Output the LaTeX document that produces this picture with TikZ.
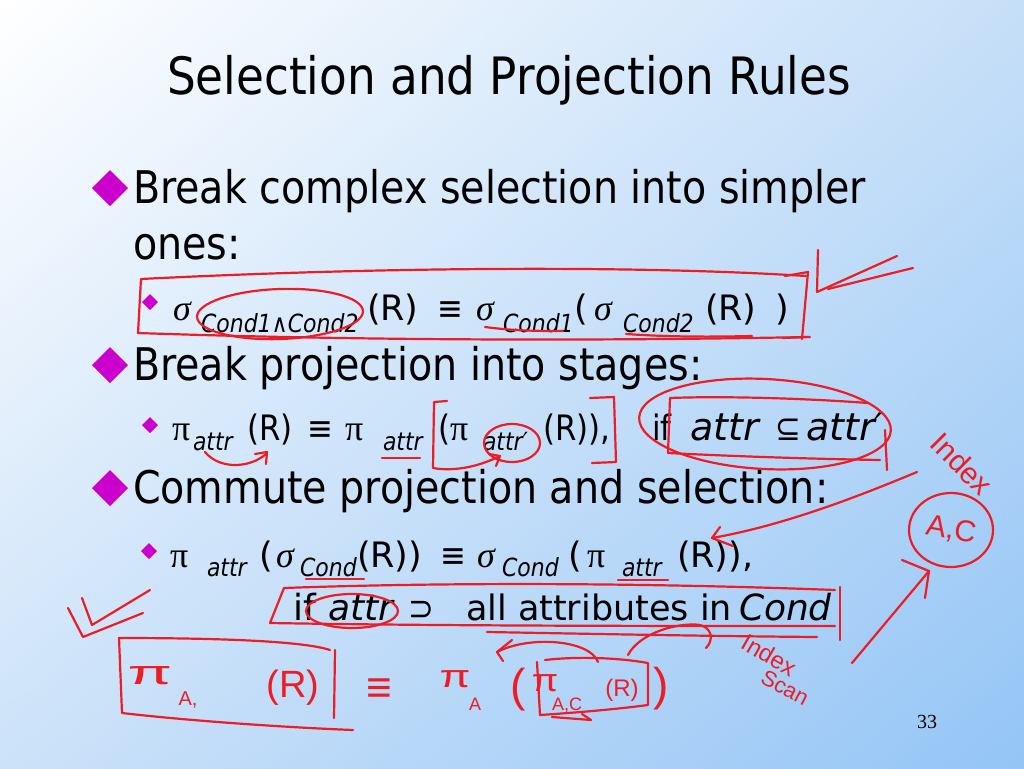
\documentclass[tikz,border=0pt]{standalone}
\usepackage{fontspec}
\setmainfont{DejaVu Sans}[FakeStretch=0.88]
\newfontfamily\widef{DejaVu Sans}
\newfontfamily\serf{Liberation Serif}
\newfontfamily\hwf{Liberation Sans}
\usetikzlibrary{arrows.meta,shadings}
\definecolor{bgTR}{HTML}{C6DFF8}
\definecolor{bgBL}{HTML}{CCE2F9}
\definecolor{bgBR}{HTML}{94C5F6}
\definecolor{ink}{HTML}{EE1C24}
\definecolor{bul}{HTML}{CC00CC}
\newcommand\myT{\fontsize{51.5}{60}\selectfont}
\newcommand\myB{\fontsize{45}{53}\selectfont}
\newcommand\myS{\fontsize{35}{42}\selectfont}
\newcommand\myW{\fontsize{35}{42}\selectfont\widef}
\newcommand\myWL{\fontsize{36}{42}\selectfont\widef}
\newcommand\myWB{\fontsize{38}{42}\selectfont\widef\itshape}
\newcommand\myU{\fontsize{25}{30}\selectfont\itshape}
\newcommand\mySig{\fontsize{36}{42}\selectfont\serf\itshape}
\newcommand\myPi{\fontsize{36}{42}\selectfont\serf}
\begin{document}
\begin{tikzpicture}[x=1pt,y=-1pt,
  t/.style={inner sep=0pt, outer sep=0pt, anchor=base west},
  hw/.style={inner sep=0pt, outer sep=0pt, anchor=center, text=ink},
  ann/.style={draw=ink, line width=2.2pt, line cap=round, line join=round},
  bigdia/.style={fill=bul},
  smalldia/.style={fill=bul}]
\useasboundingbox (0,0) rectangle (1024,768);
\shade[upper left=white, upper right=bgTR, lower left=bgBL, lower right=bgBR] (0,0) rectangle (1024,768);

% title
\node[t, font=\myT] (title) at (167,94) {Selection and Projection Rules};

% level-1 bullets
\fill[bigdia] (110,170) -- (128,188) -- (110,206) -- (92,188) -- cycle;
\fill[bigdia] (110,347) -- (128,365) -- (110,383) -- (92,365) -- cycle;
\fill[bigdia] (110,470) -- (128,488) -- (110,506) -- (92,488) -- cycle;
\node[t, font=\myB] (b1) at (133,203) {Break complex selection into simpler};
\node[t, font=\myB] (b1b) at (133,259) {ones:};
\node[t, font=\myB] (b2) at (133,380) {Break projection into stages:};
\node[t, font=\myB] (b3) at (133,503) {Commute projection and selection:};

% level-2 bullets
\fill[smalldia] (150,294) -- (158,302) -- (150,310) -- (142,302) -- cycle;
\fill[smalldia] (150,417) -- (158,425) -- (150,433) -- (142,425) -- cycle;
\fill[smalldia] (149,543) -- (157,551) -- (149,559) -- (141,551) -- cycle;

% sub 1
\node[t, font=\mySig] (s1a) at (173,320) {σ};
\node[t, font=\myU] (s1b) at (201,332) {Cond1∧Cond2};
\node[t, font=\myW] (s1c) at (367,320) {(R)};
\node[t, font=\myS] (s1d) at (437,320) {≡};
\node[t, font=\mySig] (s1e) at (476,320) {σ};
\node[t, font=\myU] (s1f) at (503,332) {Cond1};
\node[t, font=\myW] (s1g) at (574,320) {(};
\node[t, font=\mySig] (s1h) at (594,320) {σ};
\node[t, font=\myU] (s1i) at (623,332) {Cond2};
\node[t, font=\myW] (s1j) at (705,320) {(R)};
\node[t, font=\myW] (s1k) at (775,320) {)};

% sub 2
\node[t, font=\myPi] (s2a) at (172,440) {π};
\node[t, font=\myU] (s2b) at (193,450) {attr};
\node[t, font=\myS] (s2c) at (247,440) {(R)};
\node[t, font=\myS] (s2d) at (307,440) {≡};
\node[t, font=\myPi] (s2e) at (345,440) {π};
\node[t, font=\myU] (s2f) at (383,450) {attr};
\node[t, font=\myS] (s2g) at (438,440) {(};
\node[t, font=\myPi] (s2h) at (450,440) {π};
\node[t, font=\myU] (s2i) at (483,450) {attr′};
\node[t, font=\myS] (s2j) at (543,440) {(R)),};
\node[t, font=\myS] (s2k) at (652,440) {if};
\node[t, font=\myWB] (s2l) at (690,440) {attr};
\node[t, font=\myS] (s2m) at (775,440) {⊆};
\node[t, font=\myWB] (s2n) at (806,440) {attr′};

% sub 3
\node[t, font=\myPi] (s3a) at (170,567) {π};
\node[t, font=\myU] (s3b) at (207,576) {attr};
\node[t, font=\myW] (s3c) at (259,567) {(};
\node[t, font=\mySig] (s3d) at (276,567) {σ};
\node[t, font=\myU] (s3e) at (300,576) {Cond};
\node[t, font=\myW] (s3f) at (357,567) {(R))};
\node[t, font=\myS] (s3g) at (440,567) {≡};
\node[t, font=\mySig] (s3h) at (477,567) {σ};
\node[t, font=\myU] (s3i) at (502,576) {Cond};
\node[t, font=\myW] (s3j) at (568,567) {(};
\node[t, font=\myPi] (s3k) at (587,567) {π};
\node[t, font=\myU] (s3l) at (622,576) {attr};
\node[t, font=\myW] (s3m) at (677,567) {(R)),};
\node[t, font=\myWL] (s3n) at (293,620) {if};
\node[t, font=\myWL\itshape] (s3o) at (328,620) {attr};
\node[t, font=\myS] (s3p) at (408,620) {⊃};
\node[t, font=\myW] (s3q) at (466,620) {all attributes in};
\node[t, font=\myWL\itshape] (s3r) at (739,620) {Cond};

% page number
\node[t, font=\serf\fontsize{20}{24}\selectfont] (pg) at (917,728) {33};

% ---- red annotations ----
% box around sub 1
\draw[ann] (806,276) .. controls (650,266) and (400,266) .. (141,279) -- (138,333) .. controls (400,342) and (650,340) .. (810,337);
\draw[ann] (785,276) -- (808,272) -- (802,339);
\draw[ann] (783,338) -- (806,337);
\draw[ann, rotate around={2:(280,314)}] (280,314) ellipse [x radius=83, y radius=25];
\draw[ann] (485,327) .. controls (515,331) and (540,331) .. (563,331);
\draw[ann] (626,334) .. controls (670,337) and (710,337) .. (752,336);
% check mark top right
\draw[ann] (818,250) -- (817,292) -- (897,256);
\draw[ann] (828,289) -- (913,268);

% sub 2 annotations
\draw[ann] (205,452) .. controls (220,470) and (250,468) .. (266,454);
\draw[ann] (255,454) -- (267,452) -- (266,464);
\draw[ann] (382,458) -- (420,458);
\draw[ann] (447,401) -- (434,402) -- (433,468) .. controls (455,472) and (480,466) .. (500,456);
\draw[ann] (489,454) -- (500,456) -- (496,466);
\draw[ann] (512,443) ellipse [x radius=28, y radius=19];
\draw[ann] (590,398) -- (614,397) -- (616,462) -- (592,463);
\draw[ann, rotate around={-3:(765,424)}] (765,424) ellipse [x radius=126, y radius=45];
\draw[ann] (868,403) .. controls (800,398) and (720,396) .. (670,398) -- (668,453) .. controls (750,457) and (820,459) .. (880,460);
\draw[ann] (885,430) -- (887,470);
% Index + A,C
\node[hw, font=\hwf\fontsize{30}{30}\selectfont, rotate=-45] (idx1) at (962,464) {Index};
\draw[ann] (951,530) ellipse [x radius=42, y radius=37];
\node[hw, font=\hwf\fontsize{30}{30}\selectfont, rotate=-10] (ac1) at (951,530) {A,C};
\coordinate (arrA) at (917,472);
\coordinate (arrB) at (712,538);
\draw[ann] (arrA) .. controls (850,500) and (780,526) .. (arrB);
\draw[ann] (720,527) -- (arrB) -- (733,546);
\coordinate (arrC) at (852,663);
\coordinate (arrD) at (929,571);
\draw[ann] (arrC) -- (arrD);
\draw[ann] (902,560) -- (arrD) -- (925,598);
\draw[ann] (840,587) -- (840,640);

% sub 3 annotations
\draw[ann] (306,579) -- (364,579);
\draw[ann] (618,580) -- (668,580);
\draw[ann] (835,590) .. controls (650,583) and (450,582) .. (284,588) -- (270,623) .. controls (450,626) and (650,626) .. (835,626);
\draw[ann] (487,632) .. controls (600,634) and (700,636) .. (817,637);
\draw[ann] (352,611) ellipse [x radius=46, y radius=17];
% check mark left
\draw[ann] (68,608) -- (83,637) -- (143,613);
\draw[ann] (82,598) -- (92,625) -- (150,590);

% handwritten formula
\draw[ann] (330,650) .. controls (300,640) and (200,638) .. (119,638) -- (122,713) .. controls (200,722) and (300,728) .. (353,730);
\draw[ann] (335,650) -- (334,718);
\node[hw, font=\hwf\fontsize{34}{34}\selectfont, xscale=1.9] (hpi1) at (150,676) {π};
\node[hw, font=\hwf\fontsize{20}{20}\selectfont] (hA1) at (188,700) {A,};
\node[hw, font=\hwf\fontsize{38}{38}\selectfont] (hR1) at (293,688) {(R)};
\node[hw, font=\hwf\fontsize{44}{44}\selectfont] (heq) at (379,691) {≡};
\node[hw, font=\hwf\fontsize{32}{32}\selectfont, xscale=1.4] (hpi2) at (455,679) {π};
\node[hw, font=\hwf\fontsize{18}{18}\selectfont] (hA2) at (475,704) {A};
\node[hw, font=\hwf\fontsize{46}{46}\selectfont] (hpl) at (518,690) {(};
\node[hw, font=\hwf\fontsize{32}{32}\selectfont, xscale=1.2] (hpi3) at (545,683) {π};
\node[hw, font=\hwf\fontsize{18}{18}\selectfont] (hAC) at (567,705) {A,C};
\node[hw, font=\hwf\fontsize{24}{24}\selectfont] (hR2) at (622,690) {(R)};
\node[hw, font=\hwf\fontsize{46}{46}\selectfont] (hpr) at (661,689) {)};
\draw[ann] (545,660) .. controls (580,656) and (620,658) .. (648,663) -- (648,705) .. controls (610,710) and (570,713) .. (540,715) -- (537,662);
\coordinate (ha1) at (598,662);
\coordinate (ha2) at (497,652);
\draw[ann] (ha1) .. controls (590,640) and (530,635) .. (ha2);
\draw[ann] (512,640) -- (ha2) -- (503,661);
\draw[ann] (628,655) .. controls (640,632) and (680,622) .. (700,625) .. controls (712,628) and (714,640) .. (706,648);
\draw[ann] (552,717) -- (591,720);
\draw[ann] (582,714) -- (591,720);
\node[hw, font=\hwf\fontsize{24}{24}\selectfont, rotate=-30] (hidx) at (769,655) {Index};
\node[hw, font=\hwf\fontsize{22}{22}\selectfont, rotate=-28] (hscan) at (785,688) {Scan};
\end{tikzpicture}
\end{document}
